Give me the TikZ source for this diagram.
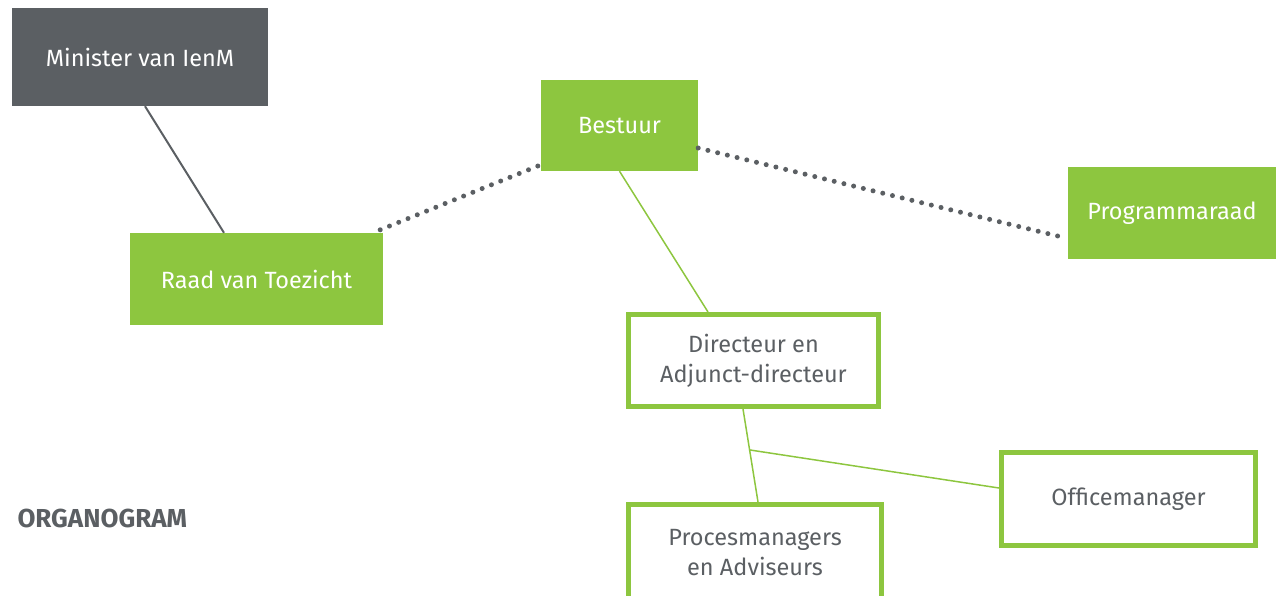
\documentclass[tikz,border=0pt]{standalone}
\usepackage{fontspec}
\setmainfont{Fira Sans}
\usepackage{tikz}
\definecolor{ienmgreen}{HTML}{8DC63F}
\definecolor{ienmgray}{HTML}{5B5F63}
\begin{document}
\begin{tikzpicture}[x=1pt,y=-1pt]
						\tikzstyle{dark}=[fill=ienmgray,text=white,minimum width=256pt,minimum height=98pt,inner sep=0pt,anchor=center,font=\fontsize{23.5}{30}\selectfont]
						\tikzstyle{solid}=[fill=ienmgreen,text=white,minimum width=253pt,minimum height=92pt,inner sep=0pt,font=\fontsize{23.5}{30}\selectfont]
						\tikzstyle{framed}=[draw=ienmgreen,line width=5pt,fill=white,text=ienmgray,minimum width=250pt,minimum height=92pt,inner sep=0pt,align=center,font=\fontsize{23.5}{30}\selectfont]
						\tikzstyle{dots}=[ienmgray,line width=5pt,line cap=round,dash pattern=on 0pt off 10pt]
						\tikzstyle{link}=[ienmgreen,line width=1.5pt]
						\useasboundingbox (0,0) rectangle (1276,595);
						\node[dark](minister) at (140,57) {Minister van IenM};
						\node[solid](raad) at (256.5,279) {Raad van Toezicht};
						\node[solid,minimum width=157pt,minimum height=91pt](bestuur) at (619.5,125.5) {Bestuur};
						\node[solid,minimum width=208pt](programma) at (1172,213) {Programmaraad};
						\node[framed](directeur) at (753.5,360.5) {Directeur en\\Adjunct-directeur};
						\node[framed,minimum width=253pt,minimum height=96pt](proces) at (755,552.5) {Procesmanagers\\en Adviseurs};
						\node[framed,minimum width=254pt,minimum height=93pt](office) at (1128.5,499) {Officemanager};
						\node[anchor=west,text=ienmgray,font=\fontsize{26}{30}\selectfont\bfseries](titel) at (14,518) {ORGANOGRAM};
						\draw[ienmgray,line width=2pt]([xshift=5pt]minister.south) -- ([xshift=-32.5pt]raad.north);
						\draw[dots]([xshift=-3pt,yshift=3pt]raad.north east) -- ([xshift=-1pt,yshift=6pt]bestuur.south west);
						\draw[dots]([yshift=-22.5pt]bestuur.east) -- ([xshift=-2pt,yshift=-25pt]programma.west);
						\draw[link](bestuur.south) -- ([xshift=-45.5pt]directeur.north);
						\draw[link]([xshift=-10.5pt]directeur.south) -- coordinate[pos=0.44](split) ([xshift=3pt]proces.north);
						\draw[link](split) -- ([yshift=11pt]office.west);
					\end{tikzpicture}
\end{document}
